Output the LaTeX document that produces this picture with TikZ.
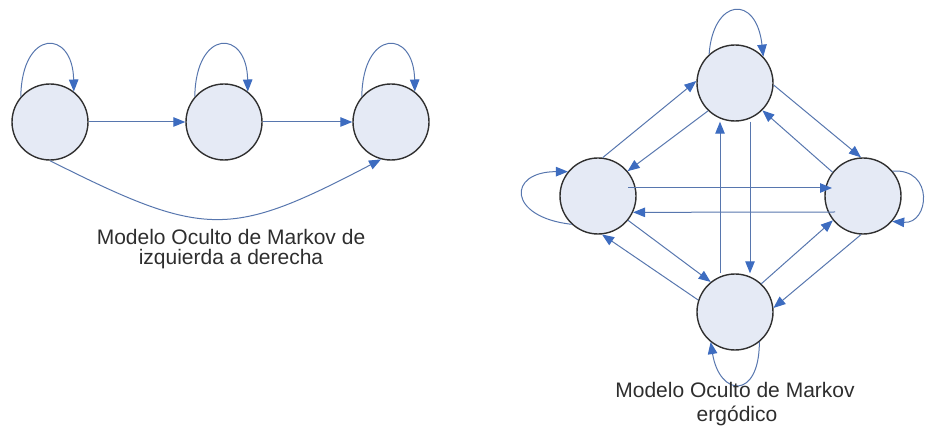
\documentclass[tikz,border=0pt]{standalone}
\usepackage{fontspec}
\setmainfont{Liberation Sans}
\usetikzlibrary{arrows.meta,calc}
\definecolor{stfill}{HTML}{E5EAF5}
\definecolor{stline}{HTML}{303030}
\definecolor{arr}{HTML}{5776AE}
\definecolor{arrhead}{HTML}{3D6CC0}
\definecolor{txt}{HTML}{2E2E2E}
\begin{document}
\begin{tikzpicture}[x=1pt,y=-1pt,
  state/.style={circle,draw=stline,fill=stfill,line width=1.4pt,minimum size=76pt,inner sep=0pt},
  trans/.style={draw=arr,line width=1pt,-{Triangle[length=12pt,width=9.5pt,color=arrhead]}},
  lbl/.style={text=txt,font=\fontsize{21}{21}\selectfont,anchor=base,inner sep=0pt}]
\useasboundingbox (0,0) rectangle (927,446);

% left diagram
\node[state] (c1) at (50,122) {};
\node[state] (c2) at (224,122) {};
\node[state] (c3) at (391,122) {};

\foreach \n in {c1,c2,c3}{
  \draw[trans] (\n.139) .. controls +(1,-68) and +(-1,-63) .. (\n.52);
}
\draw[trans] (c1.east) -- (c2.west);
\draw[trans] (c2.east) -- (c3.west);
\draw[trans] (c1.south) .. controls +(155,78) and +(-151,79) .. (c3.255);

\node[lbl] (t1) at (231,245) {Modelo Oculto de Markov de};
\node[lbl] (t2) at (231,265) {izquierda a derecha};

% right diagram
\node[state] (T) at (735,83) {};
\node[state] (L) at (598,196) {};
\node[state] (R) at (863,196) {};
\node[state] (B) at (735,312) {};

% self loops
\draw[trans] (T.132) .. controls +(4,-56) and +(-7,-63) .. (T.43);
\draw[trans] (L.227) .. controls +(-64,-7) and +(-61,0) .. (L.141);
\draw[trans] (R.40) .. controls +(42,-3) and +(37,3) .. (R.-41);
\draw[trans] (B.-51) .. controls +(0,58) and +(9,55) .. (B.-129);

% diagonals
\draw[trans] (L.83) -- (T.177);
\draw[trans] (T.226) -- (L.40);
\draw[trans] (T.-3) -- (R.93);
\draw[trans] (R.142) -- (T.-45);
\draw[trans] (L.-39) -- (B.129);
\draw[trans] (B.162) -- (L.-84);
\draw[trans] (B.47) -- (R.-141);
\draw[trans] (R.-93) -- (B.6);

% horizontals
\draw[trans] ($(L.center)+(30,-8)$) -- ($(R.center)+(-31,-8)$);
\draw[trans] ($(R.center)+(-28,16)$) -- (L.-25);

% verticals
\draw[trans] (B.north -| 720,0) -- (T.south -| 720,0);
\draw[trans] (T.south -| 750,0) -- (B.north -| 750,0);

\node[lbl] (t3) at (735,398) {Modelo Oculto de Markov};
\node[lbl] (t4) at (737,421) {ergódico};
\end{tikzpicture}
\end{document}
